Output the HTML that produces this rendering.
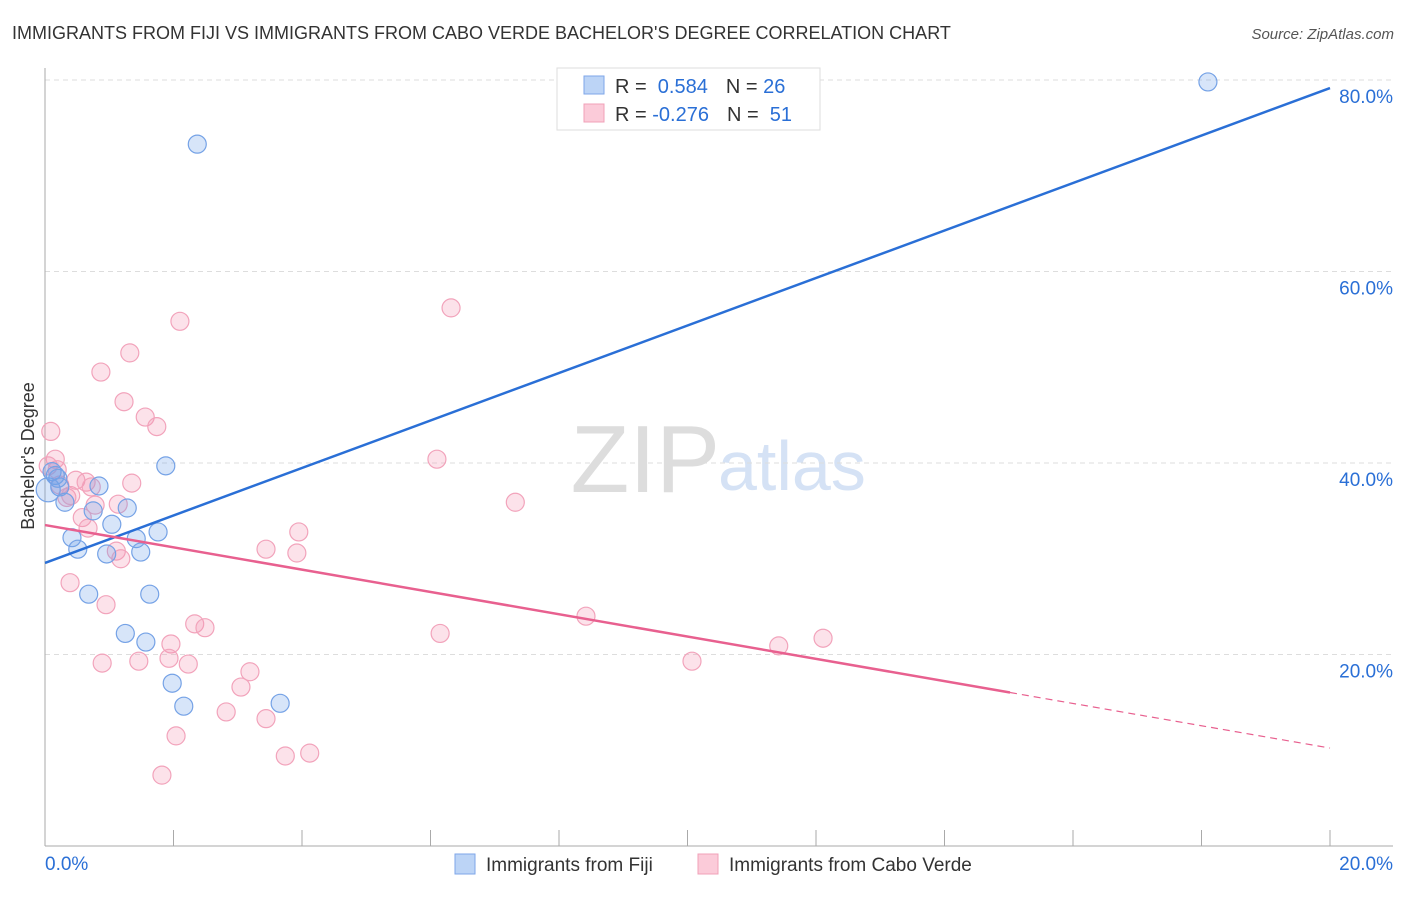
<!DOCTYPE html>
<html><head><meta charset="utf-8"><style>
body{margin:0;background:#fff;font-family:"Liberation Sans",sans-serif}
svg text{font-family:"Liberation Sans",sans-serif}
</style></head><body>
<svg id="c" width="1406" height="892">
<text x="12" y="39" font-size="18" fill="#333">IMMIGRANTS FROM FIJI VS IMMIGRANTS FROM CABO VERDE BACHELOR'S DEGREE CORRELATION CHART</text>
<text x="1394" y="39" font-size="15" fill="#555" font-style="italic" text-anchor="end">Source: ZipAtlas.com</text>
<text x="34" y="456" font-size="18" fill="#333" text-anchor="middle" transform="rotate(-90 34 456)">Bachelor's Degree</text>
<text x="720" y="492" font-size="96" fill="#ddd" text-anchor="end" font-family="Liberation Serif">ZIP</text>
<text x="718" y="490" font-size="70" fill="#d5e2f5">atlas</text>
<g id="grid"></g><g id="axes"></g><g id="pts"></g><g id="lines"></g>
<g>
<rect x="557" y="68" width="263" height="62" fill="#fff" stroke="#ddd"/>
<rect x="584" y="76" width="20" height="18" fill="#bcd4f6" stroke="#7ea6e8"/>
<rect x="584" y="104" width="20" height="18" fill="#fbcbd9" stroke="#f0a0b8"/>
<text x="615" y="93" font-size="20" fill="#333">R = <tspan fill="#2a6fd6">&#160;0.584</tspan><tspan dx="18">N = </tspan><tspan fill="#2a6fd6">26</tspan></text>
<text x="615" y="121" font-size="20" fill="#333">R = <tspan fill="#2a6fd6">-0.276</tspan><tspan dx="18">N = </tspan><tspan fill="#2a6fd6">&#160;51</tspan></text>
</g>
<g>
<rect x="455" y="854" width="20" height="20" fill="#bcd4f6" stroke="#7ea6e8"/>
<text x="486" y="871" font-size="19" fill="#333">Immigrants from Fiji</text>
<rect x="698" y="854" width="20" height="20" fill="#fbcbd9" stroke="#f0a0b8"/>
<text x="729" y="871" font-size="19" fill="#333">Immigrants from Cabo Verde</text>
</g>
</svg>
<script>
const yTicks=[20,40,60,80];
const xTickLabels=["0.0%","20.0%"];
const fijiX=[18.10,2.37,1.88,0.16,0.23,0.84,0.31,0.75,1.28,1.04,1.76,0.42,1.42,0.51,0.96,1.49,0.68,1.63,1.25,1.57,1.98,2.16,3.66,0.05,0.11,0.20];
const fijiY=[79.8,73.3,39.7,38.7,37.5,37.6,35.9,35.0,35.3,33.6,32.8,32.2,32.1,31.0,30.5,30.7,26.3,26.3,22.2,21.3,17.0,14.6,14.9,37.2,39.1,38.4];
const caboX=[0.09,0.16,0.05,0.19,0.23,0.34,0.40,0.48,0.64,0.58,0.67,0.78,0.72,0.87,1.32,1.23,1.56,1.74,1.35,1.14,1.11,1.18,0.39,0.95,0.89,1.46,2.10,6.32,6.10,7.32,3.95,3.44,3.92,1.96,1.93,2.23,2.33,2.49,3.19,3.05,2.82,3.44,2.04,1.82,3.74,4.12,6.15,8.42,10.07,11.42,12.11];
const caboY=[43.3,40.4,39.7,39.3,37.7,36.4,36.6,38.2,38.0,34.3,33.2,35.6,37.5,49.5,51.5,46.4,44.8,43.8,37.9,35.7,30.8,30.0,27.5,25.2,19.1,19.3,54.8,56.2,40.4,35.9,32.8,31.0,30.6,21.1,19.6,19.0,23.2,22.8,18.2,16.6,14.0,13.3,11.5,7.4,9.4,9.7,22.2,24.0,19.3,20.9,21.7];
const fijiLine=[29.56,79.16];
const caboLine=[33.52,10.23];
const caboSolidEnd=15.02;
const NS="http://www.w3.org/2000/svg";
const X=v=>45+v*64.25, Y=v=>846-v*9.575;
function mk(t,a,p){const e=document.createElementNS(NS,t);for(const k in a)e.setAttribute(k,a[k]);document.getElementById(p).appendChild(e);return e;}
yTicks.forEach(t=>{
 const g=mk('line',{x1:45,x2:1393,y1:Y(t),y2:Y(t),stroke:'#ddd','stroke-dasharray':'5,4'},'grid');
 
 
 const l=mk('text',{x:1393,y:Y(t)+23,'font-size':19,fill:'#2a6fd6','text-anchor':'end'},'grid');
 l.textContent=t.toFixed(1)+'%';
 
 
});
const ax=mk('line',{x1:45,x2:45,y1:68,y2:846,stroke:'#aaa'},'axes');


const bx=mk('line',{x1:45,x2:1393,y1:846,y2:846,stroke:'#aaa'},'axes');


for(let i=0;i<=10;i++){
 const t=mk('line',{x1:X(i*2),x2:X(i*2),y1:830,y2:846,stroke:'#aaa'},'axes');
 
 
}
[[0,'start'],[20,'end']].forEach((d,i)=>{
 const t=mk('text',{x:X(d[0])+(i?63:0),y:870,'font-size':19,fill:'#2a6fd6','text-anchor':d[1]},'axes');
 t.textContent=xTickLabels[i];
 
 
});
caboX.forEach((x,i)=>{
 const c=mk('circle',{cx:X(x),cy:Y(caboY[i]),r:9,fill:'rgba(245,150,180,0.28)',stroke:'#f2a3bb','stroke-width':1.2},'pts');
 
 
});
fijiX.forEach((x,i)=>{
 const c=mk('circle',{cx:X(x),cy:Y(fijiY[i]),r:i==23?12:9,fill:'rgba(110,160,235,0.28)',stroke:'#75a2e6','stroke-width':1.2},'pts');
 
 
});
const fl=mk('line',{x1:X(0),y1:Y(fijiLine[0]),x2:X(20),y2:Y(fijiLine[1]),stroke:'#2a6fd6','stroke-width':2.5},'lines');


const cy=x=>caboLine[0]+(caboLine[1]-caboLine[0])*x/20;
const cl=mk('line',{x1:X(0),y1:Y(cy(0)),x2:X(caboSolidEnd),y2:Y(cy(caboSolidEnd)),stroke:'#e8608f','stroke-width':2.5},'lines');


const cd=mk('line',{x1:X(caboSolidEnd),y1:Y(cy(caboSolidEnd)),x2:X(20),y2:Y(cy(20)),stroke:'#e8608f','stroke-width':1.2,'stroke-dasharray':'7,5'},'lines');


</script>
</body></html>
